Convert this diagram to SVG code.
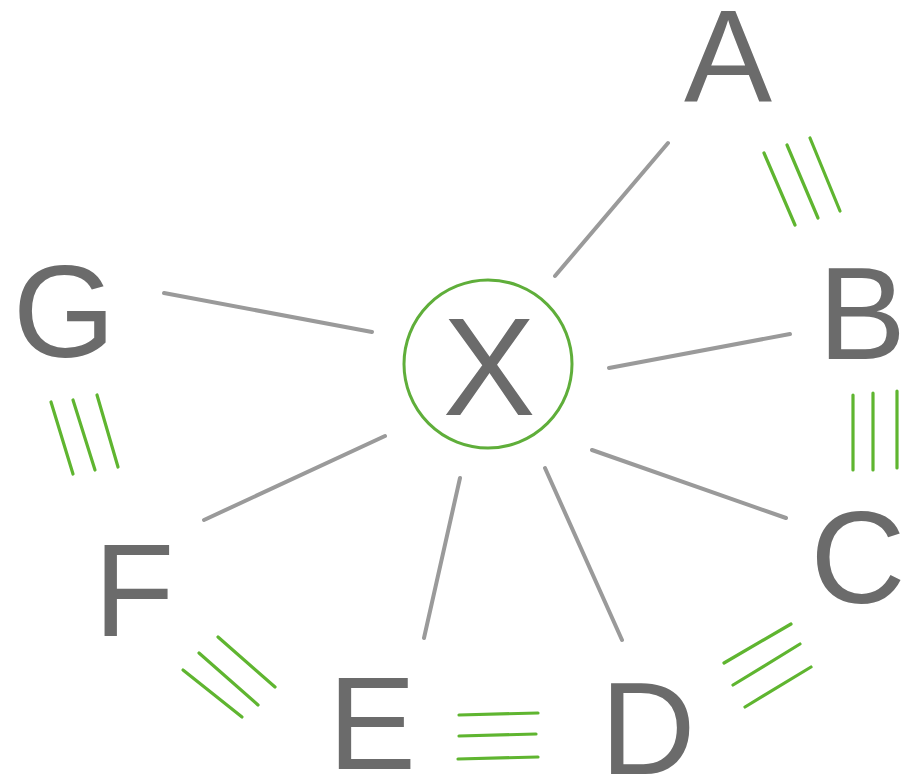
<svg xmlns="http://www.w3.org/2000/svg" width="906" height="782" viewBox="0 0 906 782">
<style>
.lbl{font-family:"Liberation Sans",Arial,sans-serif;font-size:132px;fill:#6b6b6b;text-anchor:middle}
.spoke{stroke:#9a9a9a;stroke-width:4;stroke-linecap:round}
.tri{stroke:#5fb530;stroke-width:3.2;stroke-linecap:round}
</style>
<rect width="906" height="782" fill="#ffffff"/>
<g id="connectors">
<line class="spoke" x1="555" y1="276" x2="668" y2="143"/>
<line class="spoke" x1="609" y1="368" x2="790" y2="334"/>
<line class="spoke" x1="592" y1="450" x2="786" y2="518"/>
<line class="spoke" x1="545" y1="468" x2="622" y2="640"/>
<line class="spoke" x1="460" y1="478" x2="424" y2="638"/>
<line class="spoke" x1="385" y1="436" x2="204" y2="520"/>
<line class="spoke" x1="372" y1="332" x2="164" y2="293"/>
</g>
<g id="links">
<g id="link-AB">
<line class="tri" x1="764" y1="153" x2="795" y2="225"/>
<line class="tri" x1="787" y1="145" x2="818" y2="218"/>
<line class="tri" x1="810" y1="138" x2="840" y2="211"/>
</g>
<g id="link-BC">
<line class="tri" x1="853" y1="395" x2="853" y2="470"/>
<line class="tri" x1="873" y1="393" x2="873" y2="470"/>
<line class="tri" x1="897" y1="391" x2="897" y2="468"/>
</g>
<g id="link-CD">
<line class="tri" x1="724" y1="663" x2="791" y2="624"/>
<line class="tri" x1="733" y1="685" x2="800" y2="644"/>
<line class="tri" x1="745" y1="707" x2="811" y2="667"/>
</g>
<g id="link-DE">
<line class="tri" x1="459" y1="715" x2="538" y2="713"/>
<line class="tri" x1="459" y1="736" x2="536" y2="734"/>
<line class="tri" x1="458" y1="759" x2="538" y2="757"/>
</g>
<g id="link-EF">
<line class="tri" x1="183" y1="670" x2="242" y2="717"/>
<line class="tri" x1="199" y1="653" x2="258" y2="705"/>
<line class="tri" x1="218" y1="637" x2="275" y2="687"/>
</g>
<g id="link-FG">
<line class="tri" x1="51" y1="402" x2="73" y2="474"/>
<line class="tri" x1="73" y1="400" x2="95" y2="470"/>
<line class="tri" x1="97" y1="395" x2="118" y2="467"/>
</g>
</g>
<g id="node-X">
<circle cx="488" cy="364" r="84" fill="none" stroke="#5fae3a" stroke-width="3"/>
<text class="lbl" x="489" y="415" style="font-size:139px">X</text>
</g>
<g id="node-A"><text class="lbl" x="728" y="102">A</text></g>
<g id="node-B"><text class="lbl" x="862" y="359">B</text></g>
<g id="node-C"><text class="lbl" x="858" y="603">C</text></g>
<g id="node-D"><text class="lbl" x="648" y="774">D</text></g>
<g id="node-E"><text class="lbl" x="372" y="769">E</text></g>
<g id="node-F"><text class="lbl" x="134" y="636">F</text></g>
<g id="node-G"><text class="lbl" x="64" y="357">G</text></g>
</svg>
